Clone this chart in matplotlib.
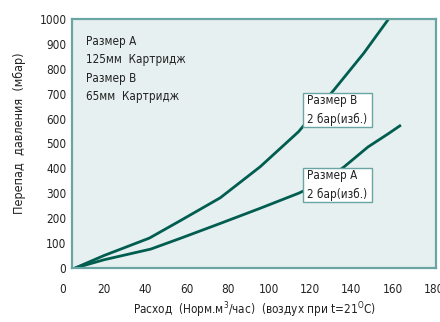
import matplotlib
matplotlib.use("Agg")
import matplotlib.pyplot as plt
from matplotlib import font_manager
from matplotlib.patches import Rectangle

# pick a condensed font if we have one
fonts = font_manager.fontManager.ttflist
narrow, stretch = "Liberation Sans", "normal"
for f in fonts:
    if f.name == "Liberation Sans Narrow":
        narrow, stretch = f.name, "normal"
        break
else:
    for f in fonts:
        if f.stretch in ("condensed", "semi-condensed", "extra-condensed", 75, 87):
            narrow, stretch = f.name, f.stretch
            break
plt.rcParams["font.family"] = [narrow, "DejaVu Sans"]
plt.rcParams["font.stretch"] = stretch
plt.rcParams["mathtext.fontset"] = "custom"
plt.rcParams["mathtext.rm"] = narrow

# size B (65mm cartridge) and size A (125mm cartridge), 2 bar(g)
flow_b = [6, 20, 42, 57, 76.4, 95.8, 114.3, 131.5, 146, 158]
dp_b = [0, 50, 120, 190, 282, 407, 547, 715, 863, 1000]
flow_a = [6, 20, 42.7, 57, 76.4, 95.8, 114.3, 126, 136.4, 148, 158, 164]
dp_a = [0, 33, 76, 119, 179, 240, 300, 345, 406, 486, 540, 574]

x_ticks = [20, 40, 60, 80, 100, 120, 140, 160, 180]
y_ticks = [0, 100, 200, 300, 400, 500, 600, 700, 800, 900, 1000]

line_col = "#005d50"
frame_col = "#69a5a3"
bg_col = "#e7f0f0"
txt_col = "#222222"

fig = plt.figure(figsize=(4.4, 3.22), dpi=100)
ax = fig.add_axes([72 / 440, 54 / 322, 364 / 440, 249 / 322])
ax.set_facecolor(bg_col)

ax.plot(flow_b, dp_b, color=line_col, lw=2.0, solid_capstyle="butt")
ax.plot(flow_a, dp_a, color=line_col, lw=2.0, solid_capstyle="butt")

ax.set_xlim(4.5, 181)
ax.set_ylim(0, 1000)
ax.set_xticks(x_ticks)
ax.set_yticks(y_ticks)
ax.tick_params(length=0, labelsize=8.5, colors=txt_col, pad=4)
ax.tick_params(axis="x", pad=11)
# the zero of the flow axis sits left of the frame
ax.text(0, -0.085, "0", transform=ax.get_xaxis_transform(), ha="center", va="center",
        fontsize=8.5, color=txt_col, clip_on=False)
for s in ax.spines.values():
    s.set_color(frame_col)
    s.set_linewidth(1.6)

ax.set_ylabel("Перепад  давления  (мбар)", fontsize=9, color=txt_col)
ax.yaxis.set_label_coords(-0.125, 0.54)
ax.set_xlabel("Расход  (Норм.м$^3$/час)  (воздух при t=21$^{\\rm O}$C)",
              fontsize=8.5, color=txt_col, labelpad=3)

ax.text(0.038, 0.935, "Размер A\n125мм  Картридж\nРазмер B\n65мм  Картридж",
        transform=ax.transAxes, ha="left", va="top", fontsize=8.4,
        color=txt_col, linespacing=1.52)

# label boxes
for y0, label in [(566, "Размер B\n2 бар(изб.)"), (265, "Размер A\n2 бар(изб.)")]:
    ax.add_patch(Rectangle((116.5, y0), 33.5, 137, fc="white", ec=frame_col,
                           lw=1.0, zorder=3))
    ax.text(118.5, y0 + 68, label, ha="left", va="center", fontsize=8.4,
            color=txt_col, linespacing=1.52, zorder=4)

fig.savefig("out.png", dpi=100)
